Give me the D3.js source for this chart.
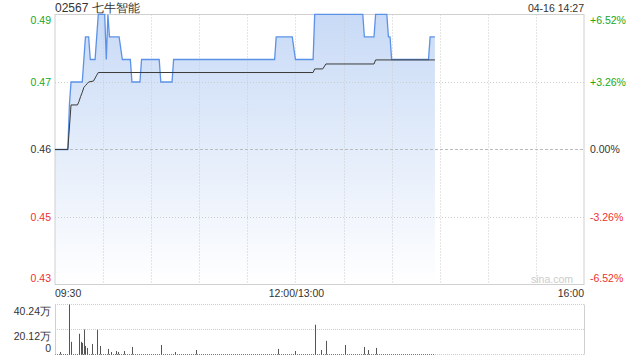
<!DOCTYPE html>
<html>
<head>
<meta charset="utf-8">
<script src="https://cdn.jsdelivr.net/npm/d3@7/dist/d3.min.js"></script>
<style>
body { margin: 0; background: #fff; }
text { font-family: "Liberation Sans", Arial, sans-serif; }
</style>
</head>
<body>
<svg id="chart"></svg>
<script>
var stockName = "02567 七牛智能";
var stamp = "04-16 14:27";
var prevClose = 0.46;
var rangePct = 6.52;

var priceLabels = ["0.49", "0.47", "0.46", "0.45", "0.43"];
var pctLabels = ["+6.52%", "+3.26%", "0.00%", "-3.26%", "-6.52%"];
var timeLabels = ["09:30", "12:00/13:00", "16:00"];
var volLabels = ["40.24万", "20.12万", "0"];
var volMax = 40.24;

// price line, one point where the price changes
var priceTimes = ["09:30", "09:38", "09:39", "09:40", "09:47", "09:49", "09:51", "09:52",
  "09:55", "09:57", "10:01", "10:02", "10:03", "10:04", "10:10", "10:12", "10:17",
  "10:18", "10:23", "10:24", "10:35", "10:36", "10:43", "10:44", "11:47", "11:48",
  "11:58", "13:00", "13:11", "13:12", "13:42", "13:43", "13:49", "13:50", "13:57",
  "13:58", "13:59", "14:00", "14:23", "14:24", "14:27"];
var priceValues = [0.46, 0.46, 0.47, 0.475, 0.475, 0.485, 0.485, 0.48,
  0.48, 0.49, 0.49, 0.48, 0.49, 0.485, 0.485, 0.48, 0.48,
  0.475, 0.475, 0.48, 0.48, 0.475, 0.475, 0.48, 0.48, 0.485,
  0.485, 0.48, 0.48, 0.49, 0.49, 0.485, 0.485, 0.49, 0.49,
  0.485, 0.485, 0.48, 0.48, 0.485, 0.485];

// average price line
var avgTimes = ["09:30", "09:38", "09:40", "09:44", "09:45", "09:46", "09:47", "09:48",
  "09:49", "09:50", "09:51", "09:54", "09:56", "09:57", "13:11", "13:12", "13:17",
  "13:19", "13:49", "13:50", "14:27"];
var avgValues = [0.46, 0.46, 0.4699, 0.4699, 0.4707, 0.4718, 0.4727, 0.4738,
  0.4742, 0.4746, 0.4750, 0.4752, 0.4765, 0.4771, 0.4771, 0.4779, 0.4779,
  0.4790, 0.4790, 0.4799, 0.4799];

// volume (万)
var volTimes = ["09:33", "09:39", "09:40", "09:45", "09:46", "09:47", "09:48", "09:49",
  "09:50", "09:53", "09:56", "09:58", "10:03", "10:05", "10:08", "10:09", "10:13",
  "10:18", "10:36", "10:45", "10:58", "11:49", "13:00", "13:12", "13:16", "13:19",
  "13:31", "13:43", "13:45", "13:50"];
var volValues = [2, 40.24, 10.2, 16.7, 10.2, 9.3, 20.1, 6.9,
  5.3, 8.5, 19.9, 6.9, 4.5, 2, 2.8, 2, 2.8,
  6.1, 7.7, 2, 3.6, 4.5, 2.8, 24, 3.6, 11,
  7.7, 6.1, 3.6, 5.3];

var width = 640;
var height = 360;

var left = 55, right = 584;
var top1 = 14.5, bottom1 = 284.5;
var top2 = 304.5, bottom2 = 354.5;

var green = "#20a820";
var red = "#f03030";
var dark = "#333";

function minuteIndex(t) {
  var p = t.split(":");
  var m = +p[0] * 60 + +p[1];
  if (m >= 13 * 60) m -= 60;
  return m - (9 * 60 + 30);
}

var svg = d3.select("#chart")
  .attr("width", width)
  .attr("height", height);

var x = d3.scaleLinear().domain([0, 330]).range([left, right]);
var y = d3.scaleLinear()
  .domain([prevClose * (1 - rangePct / 100), prevClose * (1 + rangePct / 100)])
  .range([bottom1, top1]);
var yv = d3.scaleLinear().domain([0, volMax]).range([bottom2, top2]);

var levels = [2, 1, 0, -1, -2].map(function (k) {
  return prevClose * (1 + k * rangePct / 200);
});

var pricePts = priceTimes.map(function (t, i) { return [minuteIndex(t), priceValues[i]]; });
var avgPts = avgTimes.map(function (t, i) { return [minuteIndex(t), avgValues[i]]; });

//gradient
var grad = svg.append("defs").append("linearGradient")
  .attr("id", "fillGrad")
  .attr("gradientUnits", "userSpaceOnUse")
  .attr("x1", 0).attr("y1", top1).attr("x2", 0).attr("y2", bottom1);
grad.append("stop").attr("offset", "0%").attr("stop-color", "#c8daf6");
grad.append("stop").attr("offset", "100%").attr("stop-color", "#ffffff");

//area under price
svg.append("path")
  .datum(pricePts)
  .attr("fill", "url(#fillGrad)")
  .attr("d", d3.area()
    .x(function (d) { return x(d[0]); })
    .y0(bottom1)
    .y1(function (d) { return y(d[1]); }));

//grid
var grid = svg.append("g");

d3.range(30, 330, 30).forEach(function (m) {
  grid.append("line")
    .attr("x1", Math.round(x(m)) + 0.5).attr("x2", Math.round(x(m)) + 0.5)
    .attr("y1", top1).attr("y2", bottom1)
    .attr("stroke", "#ccc")
    .attr("stroke-dasharray", "1,2");
});

levels.forEach(function (v, i) {
  if (i == 0 || i == 4) return;
  grid.append("line")
    .attr("x1", left).attr("x2", right)
    .attr("y1", Math.round(y(v)) + 0.5).attr("y2", Math.round(y(v)) + 0.5)
    .attr("stroke", i == 2 ? "#bbb" : "#ccc")
    .attr("stroke-dasharray", i == 2 ? "3,2" : "1,2");
});

grid.append("rect")
  .attr("x", left).attr("y", top1)
  .attr("width", right - left).attr("height", bottom1 - top1)
  .attr("fill", "none")
  .attr("stroke", "#d0d0d0");

//watermark
svg.append("text")
  .text("sina.com")
  .attr("font-size", "10.5px")
  .attr("fill", "#ccc")
  .attr("text-anchor", "end")
  .attr("x", 573)
  .attr("y", 283);

//lines
var line = d3.line()
  .x(function (d) { return x(d[0]); })
  .y(function (d) { return y(d[1]); });

svg.append("path")
  .datum(pricePts)
  .attr("fill", "none")
  .attr("stroke", "#5b92e8")
  .attr("stroke-width", 1.3)
  .attr("d", line);

svg.append("path")
  .datum(avgPts)
  .attr("fill", "none")
  .attr("stroke", "#3a3a3a")
  .attr("stroke-width", 1)
  .attr("d", line);

//labels
svg.append("text")
  .text(stockName)
  .attr("font-size", "12px")
  .attr("fill", dark)
  .attr("x", left)
  .attr("y", 11.5);

svg.append("text")
  .text(stamp)
  .attr("font-size", "10.5px")
  .attr("fill", dark)
  .attr("text-anchor", "end")
  .attr("x", right)
  .attr("y", 11.5);

var shift = [5.5, 0, 0, 0, -6.5];

levels.forEach(function (v, i) {
  var c = i < 2 ? green : (i == 2 ? dark : red);
  svg.append("text")
    .text(priceLabels[i])
    .attr("font-size", "10.5px")
    .attr("fill", c)
    .attr("text-anchor", "end")
    .attr("dy", ".35em")
    .attr("x", left - 4)
    .attr("y", y(v) + shift[i]);
  svg.append("text")
    .text(pctLabels[i])
    .attr("font-size", "10.5px")
    .attr("fill", c)
    .attr("text-anchor", "start")
    .attr("dy", ".35em")
    .attr("x", right + 6)
    .attr("y", y(v) + shift[i]);
});

var timePos = [0, 150, 330];
var timeAnchor = ["start", "middle", "end"];
var timeShift = [0, 1, 0];
timeLabels.forEach(function (t, i) {
  svg.append("text")
    .text(t)
    .attr("font-size", "10.5px")
    .attr("fill", dark)
    .attr("text-anchor", timeAnchor[i])
    .attr("dy", ".35em")
    .attr("x", x(timePos[i]) + timeShift[i])
    .attr("y", 293);
});

//volume panel
var vol = svg.append("g");

[volMax, volMax / 2, 0].forEach(function (v, i) {
  vol.append("line")
    .attr("x1", left).attr("x2", right)
    .attr("y1", yv(v)).attr("y2", yv(v))
    .attr("stroke", "#ccc")
    .attr("stroke-dasharray", "1,1");

  vol.append("text")
    .text(volLabels[i])
    .attr("font-size", "10.5px")
    .attr("fill", dark)
    .attr("text-anchor", "end")
    .attr("dy", ".35em")
    .attr("x", left - 4)
    .attr("y", yv(v) + (i == 2 ? -6 : 7));
});

// base of traded minutes
vol.append("line")
  .attr("x1", left).attr("x2", x(minuteIndex(stamp.split(" ")[1])))
  .attr("y1", bottom2).attr("y2", bottom2)
  .attr("stroke", "#777")
  .attr("stroke-dasharray", "1,1");

[left, right].forEach(function (xx) {
  vol.append("line")
    .attr("x1", xx + 0.5).attr("x2", xx + 0.5)
    .attr("y1", top2).attr("y2", bottom2)
    .attr("stroke", "#d0d0d0");
});

volTimes.forEach(function (t, i) {
  vol.append("rect")
    .attr("x", Math.round(x(minuteIndex(t))))
    .attr("y", yv(volValues[i]))
    .attr("width", 1)
    .attr("height", bottom2 - yv(volValues[i]))
    .attr("fill", "#555");
});
</script>
</body>
</html>
